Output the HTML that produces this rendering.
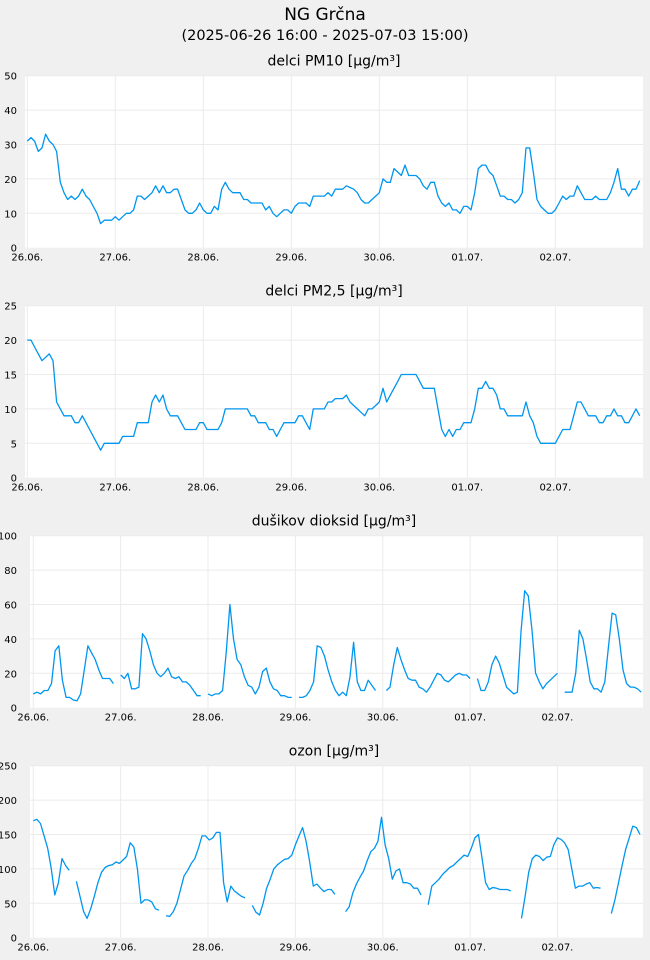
<!DOCTYPE html>
<html><head><meta charset="utf-8"><style>
body{margin:0;background:#f0f0f0;width:650px;height:960px;overflow:hidden;font-family:"DejaVu Sans","Liberation Sans",sans-serif;}
svg{display:block}
</style></head><body>
<svg id="chart" width="650" height="960" xmlns="http://www.w3.org/2000/svg">
<text x="325" y="20" text-anchor="middle" font-size="17" fill="#000">NG Grčna</text>
<text x="325" y="40" text-anchor="middle" font-size="14.5" fill="#000">(2025-06-26 16:00 - 2025-07-03 15:00)</text>
</svg>
<script>
const dayLabels = ["26.06.","27.06.","28.06.","29.06.","30.06.","01.07.","02.07."];
const pm10Ticks = [0,10,20,30,40,50];
const pm25Ticks = [0,5,10,15,20,25];
const no2Ticks = [0,20,40,60,80,100];
const o3Ticks = [0,50,100,150,200,250];
const pm10Values = [31,32,31,28,29,33,31,30,28,19,16,14,15,14,15,17,15,14,12,10,7,8,8,8,
9,8,9,10,10,11,15,15,14,15,16,18,16,18,16,16,17,17,14,11,10,10,11,13,
11,10,10,12,11,17,19,17,16,16,16,14,14,13,13,13,13,11,12,10,9,10,11,11,
10,12,13,13,13,12,15,15,15,15,16,15,17,17,17,18,17.5,17,16,14,13,13,14,15,
16,20,19,19,23,22,21,24,21,21,21,20,18,17,19,19,15,13,12,13,11,11,10,12,
12,11,16,23,24,24,22,21,18,15,15,14,14,13,14,16,29,29,22,14,12,11,10,10,
11,13,15,14,15,15,18,16,14,14,14,15,14,14,14,16,19,23,17,17,15,17,17,19.5];
const pm25Values = [20,20,19,18,17,17.5,18,17,11,10,9,9,9,8,8,9,8,7,6,5,4,5,5,5,
5,5,6,6,6,6,8,8,8,8,11,12,11,12,10,9,9,9,8,7,7,7,7,8,
8,7,7,7,7,8,10,10,10,10,10,10,10,9,9,8,8,8,7,7,6,7,8,8,
8,8,9,9,8,7,10,10,10,10,11,11,11.5,11.5,11.5,12,11,10.5,10,9.5,9,10,10,10.5,
11,13,11,12,13,14,15,15,15,15,15,14,13,13,13,13,10,7,6,7,6,7,7,8,
8,8,10,13,13,14,13,13,12,10,10,9,9,9,9,9,11,9,8,6,5,5,5,5,
5,6,7,7,7,9,11,11,10,9,9,9,8,8,9,9,10,9,9,8,8,9,10,9];
const no2Values = [8,9,8,10,10,14,33,36,16,6,6,4.5,4,8,22,36,32,28,22,17,17,17,14,null,
19,17,20,11,11,12,43,40,33,25,20,18,20,23,18,17,18,15,15,13,10,7,7,null,
8,7,8,8,10,32,60,40,28,25,18,13,12,8,12,21,23,15,11,10,7,7,6,6,
null,6,6,7,10,15,36,35,30,22,15,10,7,9,7,18,38,15,10,10,16,13,10,null,
null,10,12,25,35,28,22,17,16,16,12,11,9,12,16,20,19,16,15,17,19,20,19,19,
17,null,17,10,10,15,25,30,26,19,12,10,8,9,45,68,65,45,20,15,11,14,16,18,
20,null,9,9,9,20,45,40,28,15,11,11,9,15,35,55,54,40,22,14,12,12,11,9];
const o3Values = [170,172,166,148,130,100,62,80,115,105,98,null,82,60,38,28,42,60,80,95,102,105,106,110,
108,113,118,138,132,100,50,55,55,52,42,40,null,32,31,38,50,70,90,98,108,115,130,148,
148,142,145,153,153,80,52,75,68,64,60,58,null,47,37,33,50,72,85,100,106,110,114,115,
120,135,148,160,140,110,75,78,72,67,70,70,63,null,null,38,45,65,78,88,97,112,125,130,
140,175,135,115,85,97,100,80,80,78,72,72,62,null,48,75,80,85,92,97,102,105,110,115,
120,118,130,145,150,115,80,70,73,72,70,70,70,68,null,null,28,60,95,115,120,118,112,117,
118,135,145,143,138,128,100,72,75,75,78,80,72,73,72,null,null,35,55,80,105,128,145,162,160,150];

const svg = document.getElementById('chart');
const NS = 'http://www.w3.org/2000/svg';
function mk(tag, attrs){const e=document.createElementNS(NS,tag);for(const k in attrs)e.setAttribute(k,attrs[k]);return e;}

const panels = [
 {title:"delci PM10 [µg/m³]", vals:pm10Values, ticks:pm10Ticks, left:25, x0:27.3, dx:3.667, top:75.7, bottom:247.7, name:'pm10'},
 {title:"delci PM2,5 [µg/m³]", vals:pm25Values, ticks:pm25Ticks, left:25, x0:27.3, dx:3.667, top:305.7, bottom:477.7, name:'pm25'},
 {title:"dušikov dioksid [µg/m³]", vals:no2Values, ticks:no2Ticks, left:30, x0:33.3, dx:3.64, top:535.7, bottom:707.7, name:'no2'},
 {title:"ozon [µg/m³]", vals:o3Values, ticks:o3Ticks, left:30, x0:33.3, dx:3.59, top:765.7, bottom:937.7, name:'ozone'}
];
const right = 643;
const defs = mk('defs',{});
svg.appendChild(defs);

panels.forEach(p=>{
  const g = mk('g',{});
  
  
  svg.appendChild(g);
  const cp = mk('clipPath',{id:'clip-'+p.name});
  cp.appendChild(mk('rect',{x:p.left,y:p.top-2,width:right-p.left,height:p.bottom-p.top+4}));
  defs.appendChild(cp);
  const tmax = p.ticks[p.ticks.length-1];
  const yS = v => p.bottom - (v/tmax)*(p.bottom-p.top);
  const xS = h => p.x0 + h*p.dx;
  const xDay = i => p.x0 + i*24*(p.name==='ozone'?3.64:p.dx);
  const t = mk('text',{x:334,y:p.top-10,'text-anchor':'middle','font-size':14,fill:'#000'});
  
  
  t.textContent = p.title; g.appendChild(t);
  const bg = mk('rect',{x:p.left,y:p.top,width:right-p.left,height:p.bottom-p.top,fill:'#fff'});
  
  
  g.appendChild(bg);
  p.ticks.forEach(v=>{
    const y = yS(v);
    if(v>0){const l = mk('line',{x1:p.left,x2:right,y1:y,y2:y,stroke:'#ebebeb','stroke-width':1});
      
      
      g.appendChild(l);}
    const lb = mk('text',{x:17,y:y+4,'text-anchor':'end','font-size':10,fill:'#000'});
    
    
    lb.textContent = v; g.appendChild(lb);
  });
  dayLabels.forEach((d,i)=>{
    const x = xDay(i);
    const l = mk('line',{x1:x,x2:x,y1:p.top,y2:p.bottom,stroke:'#ebebeb','stroke-width':1});
    
    
    g.appendChild(l);
    const lb = mk('text',{x:x,y:p.bottom+13,'text-anchor':'middle','font-size':10,fill:'#000'});
    
    
    lb.textContent = d; g.appendChild(lb);
  });
  const lg = mk('g',{'clip-path':'url(#clip-'+p.name+')'});
  
  
  g.appendChild(lg);
  let seg = [];
  const flush = ()=>{
    if(seg.length>1){
      const pl = mk('polyline',{points:seg.join(' '),fill:'none',stroke:'#0096f0','stroke-width':1.3,'stroke-linejoin':'round'});
      
      
      lg.appendChild(pl);
    }
    seg = [];
  };
  p.vals.forEach((v,h)=>{
    if(v===null){flush();return;}
    seg.push(xS(h).toFixed(1)+','+yS(v).toFixed(1));
  });
  flush();
});
</script>
</body></html>
